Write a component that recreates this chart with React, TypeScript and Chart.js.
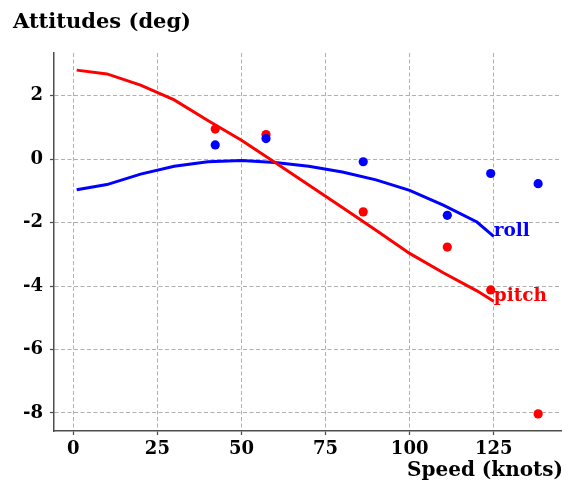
import React, { useEffect, useRef } from "react";
import { Chart, registerables } from "chart.js";

Chart.register(...registerables);

// Model curves (speed in knots -> attitude in deg)
const lineSpeeds = [1, 10, 20, 30, 40, 50, 60, 70, 80, 90, 100, 110, 120, 125];
const pitchModel = [2.81, 2.69, 2.34, 1.87, 1.22, 0.6, -0.1, -0.81, -1.52, -2.24, -2.97, -3.58, -4.15, -4.48];
const rollModel = [-0.96, -0.8, -0.47, -0.22, -0.08, -0.04, -0.1, -0.22, -0.4, -0.65, -0.98, -1.45, -1.98, -2.43];

// Test points
const testSpeeds = [42.2, 57.3, 86.2, 111.2, 124.1, 138.2];
const pitchTest = [0.95, 0.78, -1.66, -2.77, -4.12, -8.03];
const rollTest = [0.45, 0.65, -0.08, -1.77, -0.45, -0.77];

const xTicks = [0, 25, 50, 75, 100, 125];
const yTicks = [-8, -6, -4, -2, 0, 2];

const FONT = "'DejaVu Serif', serif";
const SPINE = "#4d4d4d";
const GRID = "#b0b0b0";

const toPoints = (xs: number[], ys: number[]) => xs.map((x, i) => ({ x, y: ys[i] }));

const textPlugin = {
  id: "textPlugin",
  afterDatasetsDraw(chart: any) {
    const ctx = chart.ctx;
    ctx.save();
    // end-of-line labels
    const labels = [
      { idx: 2, text: "pitch", color: "#ff0000" },
      { idx: 3, text: "roll", color: "#0000ff" },
    ];
    ctx.font = `bold 18.5px ${FONT}`;
    ctx.textAlign = "left";
    ctx.textBaseline = "alphabetic";
    labels.forEach((l) => {
      const meta = chart.getDatasetMeta(l.idx);
      const last = meta.data[meta.data.length - 1];
      ctx.fillStyle = l.color;
      ctx.fillText(l.text, last.x, last.y);
    });
    // title
    ctx.fillStyle = "#000";
    ctx.font = `bold 21px ${FONT}`;
    ctx.fillText("Attitudes (deg)", 13, 27.5);
    // x label
    ctx.font = `bold 20px ${FONT}`;
    ctx.textAlign = "right";
    ctx.fillText("Speed (knots)", 563, 476);
    ctx.restore();
  },
};

export default function App() {
  const ref = useRef<HTMLCanvasElement | null>(null);

  useEffect(() => {
    if (!ref.current) return;
    const chart = new Chart(ref.current, {
      type: "scatter",
      data: {
        datasets: [
          {
            label: "roll test",
            data: toPoints(testSpeeds, rollTest),
            backgroundColor: "#0000ff",
            borderWidth: 0,
            pointRadius: 4.6,
            showLine: false,
          },
          {
            label: "pitch test",
            data: toPoints(testSpeeds, pitchTest),
            backgroundColor: "#ff0000",
            borderWidth: 0,
            pointRadius: 4.6,
            showLine: false,
          },
          {
            label: "pitch",
            data: toPoints(lineSpeeds, pitchModel),
            borderColor: "#ff0000",
            borderWidth: 3,
            pointRadius: 0,
            showLine: true,
            tension: 0,
          },
          {
            label: "roll",
            data: toPoints(lineSpeeds, rollModel),
            borderColor: "#0000ff",
            borderWidth: 3,
            pointRadius: 0,
            showLine: true,
            tension: 0,
          },
        ],
      },
      options: {
        responsive: false,
        animation: false,
        layout: { padding: { top: 53, right: 11, left: 0, bottom: 0 } },
        plugins: {
          legend: { display: false },
          tooltip: { enabled: false },
          title: { display: false },
        },
        scales: {
          x: {
            type: "linear",
            min: -5.74,
            max: 145.0,
            afterFit: (s: any) => {
              s.height = 55;
            },
            afterBuildTicks: (s: any) => {
              s.ticks = xTicks.map((v) => ({ value: v }));
            },
            ticks: {
              padding: 4,
              color: "#000",
              font: { family: FONT, size: 18, weight: "bold" },
              callback: (v: any) => String(v),
              maxRotation: 0,
              autoSkip: false,
            },
            grid: {
              color: GRID,
              lineWidth: 1,
              tickColor: SPINE,
              tickLength: 4,
              tickWidth: 1.25,
              drawTicks: true,
            },
            border: { display: true, color: SPINE, width: 1.5, dash: [4, 2.5] },
          },
          y: {
            type: "linear",
            min: -8.57,
            max: 3.35,
            afterFit: (s: any) => {
              s.width = 54;
            },
            afterBuildTicks: (s: any) => {
              s.ticks = yTicks.map((v) => ({ value: v }));
            },
            ticks: {
              padding: 7,
              color: "#000",
              font: { family: FONT, size: 18, weight: "bold" },
              callback: (v: any) => String(v),
              autoSkip: false,
            },
            grid: {
              color: GRID,
              lineWidth: 1,
              tickColor: SPINE,
              tickLength: 4,
              tickWidth: 1.25,
              drawTicks: true,
            },
            border: { display: true, color: SPINE, width: 1.5, dash: [4, 2.5] },
          },
        },
      },
      plugins: [textPlugin],
    });
    return () => chart.destroy();
  }, []);

  return (
    <div style={{ position: "absolute", left: 0, top: 0, width: 572, height: 486, background: "#fff" }}>
      <canvas ref={ref} width={572} height={486} style={{ display: "block" }} />
    </div>
  );
}
